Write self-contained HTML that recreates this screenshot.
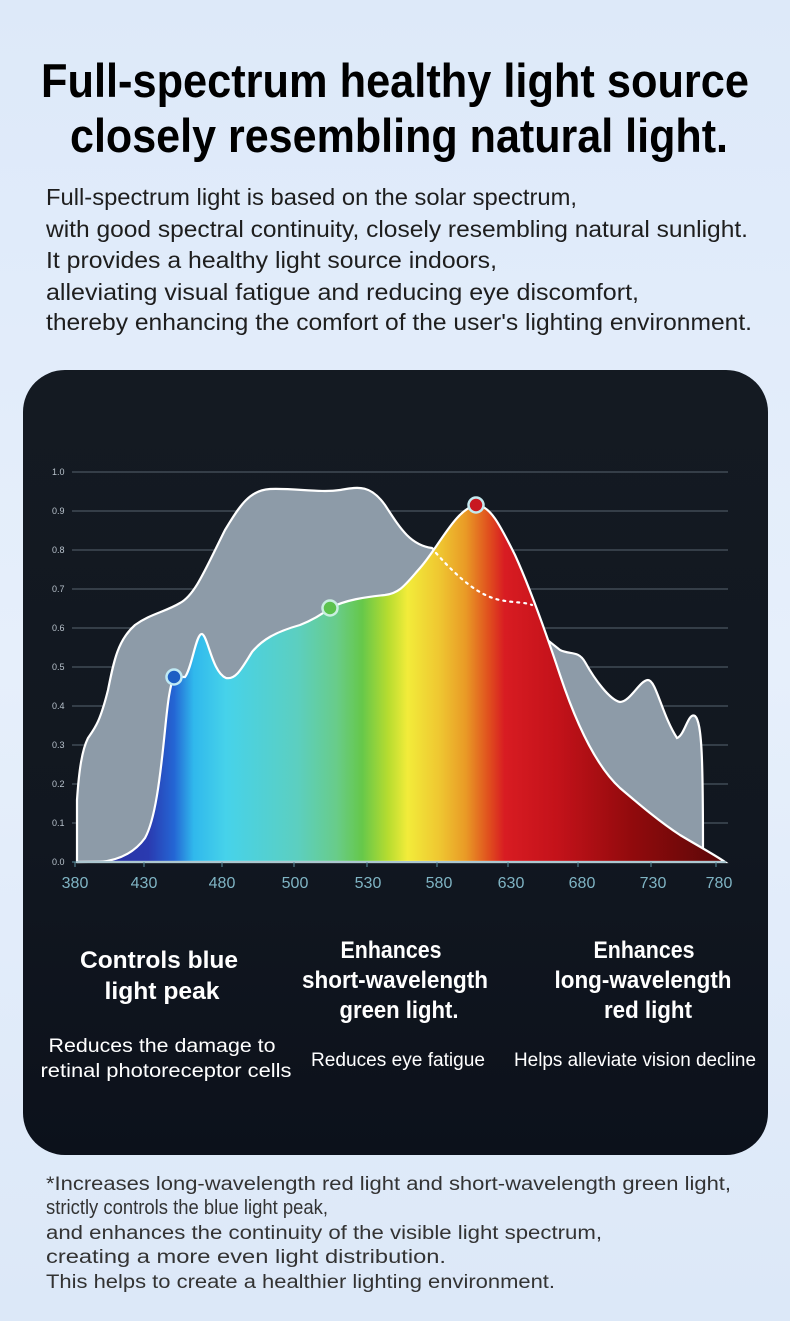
<!DOCTYPE html>
<html><head><meta charset="utf-8"><style>
html,body{margin:0;padding:0;width:790px;height:1321px;overflow:hidden}
body{background:linear-gradient(180deg,#dde9f9 0%,#e6effb 50%,#dce8f8 100%)}
svg{display:block}
text{font-family:"Liberation Sans",sans-serif}
</style></head><body>
<svg width="790" height="1321" viewBox="0 0 790 1321" xmlns="http://www.w3.org/2000/svg">
<defs>
<linearGradient id="card" x1="0" y1="0" x2="0" y2="1">
<stop offset="0" stop-color="#141a22"/><stop offset="0.6" stop-color="#111720"/><stop offset="1" stop-color="#0c111b"/>
</linearGradient>
<linearGradient id="spec" x1="77" y1="0" x2="725" y2="0" gradientUnits="userSpaceOnUse">
<stop offset="0" stop-color="#2a2f9a"/>
<stop offset="0.11" stop-color="#2a3ab0"/>
<stop offset="0.15" stop-color="#2466d4"/>
<stop offset="0.18" stop-color="#30b8ec"/>
<stop offset="0.23" stop-color="#46d2ea"/>
<stop offset="0.34" stop-color="#5ccfc0"/>
<stop offset="0.40" stop-color="#68cc8a"/>
<stop offset="0.44" stop-color="#66c84a"/>
<stop offset="0.48" stop-color="#b6dc30"/>
<stop offset="0.51" stop-color="#f2ec3a"/>
<stop offset="0.56" stop-color="#efc631"/>
<stop offset="0.60" stop-color="#e99a26"/>
<stop offset="0.635" stop-color="#e0501e"/>
<stop offset="0.66" stop-color="#d81c22"/>
<stop offset="0.74" stop-color="#c4121a"/>
<stop offset="0.86" stop-color="#900a0c"/>
<stop offset="1" stop-color="#5a0808"/>
</linearGradient>
</defs>

<text x="395" y="97" text-anchor="middle" font-size="47" font-weight="bold" fill="#000" textLength="708" lengthAdjust="spacingAndGlyphs">Full-spectrum healthy light source</text>
<text x="399" y="152" text-anchor="middle" font-size="47" font-weight="bold" fill="#000" textLength="658" lengthAdjust="spacingAndGlyphs">closely resembling natural light.</text>

<g font-size="23" fill="#1e1e1e">
<text x="46" y="205" textLength="531" lengthAdjust="spacingAndGlyphs">Full-spectrum light is based on the solar spectrum,</text>
<text x="46" y="237" textLength="702" lengthAdjust="spacingAndGlyphs">with good spectral continuity, closely resembling natural sunlight.</text>
<text x="46" y="268" textLength="451" lengthAdjust="spacingAndGlyphs">It provides a healthy light source indoors,</text>
<text x="46" y="300" textLength="593" lengthAdjust="spacingAndGlyphs">alleviating visual fatigue and reducing eye discomfort,</text>
<text x="46" y="330" textLength="706" lengthAdjust="spacingAndGlyphs">thereby enhancing the comfort of the user's lighting environment.</text>
</g>

<rect x="23" y="370" width="745" height="785" rx="42" fill="url(#card)"/>

<g stroke="#4a5560" stroke-width="1.2">
<line x1="72" y1="472" x2="728" y2="472"/><line x1="72" y1="511" x2="728" y2="511"/>
<line x1="72" y1="550" x2="728" y2="550"/><line x1="72" y1="589" x2="728" y2="589"/>
<line x1="72" y1="628" x2="728" y2="628"/><line x1="72" y1="667" x2="728" y2="667"/>
<line x1="72" y1="706" x2="728" y2="706"/><line x1="72" y1="745" x2="728" y2="745"/>
<line x1="72" y1="784" x2="728" y2="784"/><line x1="72" y1="823" x2="728" y2="823"/>
</g>
<g font-size="9" fill="#b8c2cc">
<text x="52" y="475">1.0</text><text x="52" y="514">0.9</text><text x="52" y="553">0.8</text>
<text x="52" y="592">0.7</text><text x="52" y="631">0.6</text><text x="52" y="670">0.5</text>
<text x="52" y="709">0.4</text><text x="52" y="748">0.3</text><text x="52" y="787">0.2</text>
<text x="52" y="826">0.1</text><text x="52" y="865">0.0</text>
</g>

<path d="M77,862 L77,800 C79,770 82,750 88,738 C95,728 100,722 108,690 C114,660 118,640 135,625 C150,614 165,612 180,603 C195,595 205,570 225,530 C240,505 250,490 270,489 C295,488 320,493 340,490 C358,487 370,484 385,505 C400,528 410,545 432,548 L560,650 C570,655 578,650 585,662 C595,680 610,700 620,702 C630,702 640,680 648,680 C656,680 662,715 677,738 C685,735 688,712 695,716 C702,722 703,760 703,853 L705,856 L77,862 Z" fill="#8d9ba8" stroke="#fff" stroke-width="2.2"/>

<path d="M77,862 L100,862 C120,860 135,852 145,838 C155,820 160,780 165,730 C168,700 170,685 174,677 L185,677 C192,668 196,633 202,634 C208,636 212,672 226,678 C236,680 242,668 252,652 C262,640 275,632 300,625 C315,619 325,612 330,608 C345,600 365,597 385,595 C400,593 405,585 420,568 C440,545 455,510 476,505 C490,505 500,525 515,555 C530,588 545,630 560,675 C575,720 595,765 620,788 C640,805 660,822 680,835 C700,847 715,855 725,862 Z" fill="url(#spec)" stroke="#fff" stroke-width="2.2"/>

<path d="M436,553 C460,580 480,596 500,600 C515,603 525,602 532,605" fill="none" stroke="#fff" stroke-width="2.2" stroke-dasharray="2,5" stroke-linecap="round"/>

<circle cx="174" cy="677" r="7.5" fill="#1d5fc4" stroke="#bfeaf5" stroke-width="2.5"/>
<circle cx="330" cy="608" r="7.5" fill="#5cc24c" stroke="#c9efe0" stroke-width="2.5"/>
<circle cx="476" cy="505" r="7.5" fill="#c81820" stroke="#c4e9ef" stroke-width="2.5"/>

<line x1="72" y1="862" x2="726" y2="862" stroke="#5a8fa0" stroke-width="1"/>
<g stroke="#5a8fa0" stroke-width="1">
<line x1="75" y1="862" x2="75" y2="867"/><line x1="144" y1="862" x2="144" y2="867"/><line x1="222" y1="862" x2="222" y2="867"/><line x1="294" y1="862" x2="294" y2="867"/><line x1="367" y1="862" x2="367" y2="867"/><line x1="437" y1="862" x2="437" y2="867"/><line x1="508" y1="862" x2="508" y2="867"/><line x1="578" y1="862" x2="578" y2="867"/><line x1="651" y1="862" x2="651" y2="867"/><line x1="716" y1="862" x2="716" y2="867"/>
</g>
<g font-size="16" fill="#7fb4c4" text-anchor="middle">
<text x="75" y="888">380</text><text x="144" y="888">430</text><text x="222" y="888">480</text><text x="295" y="888">500</text><text x="368" y="888">530</text><text x="439" y="888">580</text><text x="511" y="888">630</text><text x="582" y="888">680</text><text x="653" y="888">730</text><text x="719" y="888">780</text>
</g>

<g font-size="24" font-weight="bold" fill="#fff" text-anchor="middle">
<text x="159" y="968" textLength="158" lengthAdjust="spacingAndGlyphs">Controls blue</text>
<text x="162" y="999" textLength="115" lengthAdjust="spacingAndGlyphs">light peak</text>
<text x="391" y="958" textLength="101" lengthAdjust="spacingAndGlyphs">Enhances</text>
<text x="395" y="988" textLength="186" lengthAdjust="spacingAndGlyphs">short-wavelength</text>
<text x="399" y="1018" textLength="119" lengthAdjust="spacingAndGlyphs">green light.</text>
<text x="644" y="958" textLength="101" lengthAdjust="spacingAndGlyphs">Enhances</text>
<text x="643" y="988" textLength="177" lengthAdjust="spacingAndGlyphs">long-wavelength</text>
<text x="648" y="1018" textLength="88" lengthAdjust="spacingAndGlyphs">red light</text>
</g>
<g font-size="19" fill="#fff" text-anchor="middle">
<text x="162" y="1052" textLength="227" lengthAdjust="spacingAndGlyphs">Reduces the damage to</text>
<text x="166" y="1077" textLength="251" lengthAdjust="spacingAndGlyphs">retinal photoreceptor cells</text>
<text x="398" y="1066" textLength="174" lengthAdjust="spacingAndGlyphs">Reduces eye fatigue</text>
<text x="635" y="1066" textLength="242" lengthAdjust="spacingAndGlyphs">Helps alleviate vision decline</text>
</g>

<g font-size="19" fill="#333">
<text x="46" y="1190" textLength="685" lengthAdjust="spacingAndGlyphs">*Increases long-wavelength red light and short-wavelength green light,</text>
<text x="46" y="1214" font-size="20" textLength="282" lengthAdjust="spacingAndGlyphs">strictly controls the blue light peak,</text>
<text x="46" y="1239" textLength="556" lengthAdjust="spacingAndGlyphs">and enhances the continuity of the visible light spectrum,</text>
<text x="46" y="1263" textLength="400" lengthAdjust="spacingAndGlyphs">creating a more even light distribution.</text>
<text x="46" y="1288" textLength="509" lengthAdjust="spacingAndGlyphs">This helps to create a healthier lighting environment.</text>
</g>
</svg>
</body></html>
